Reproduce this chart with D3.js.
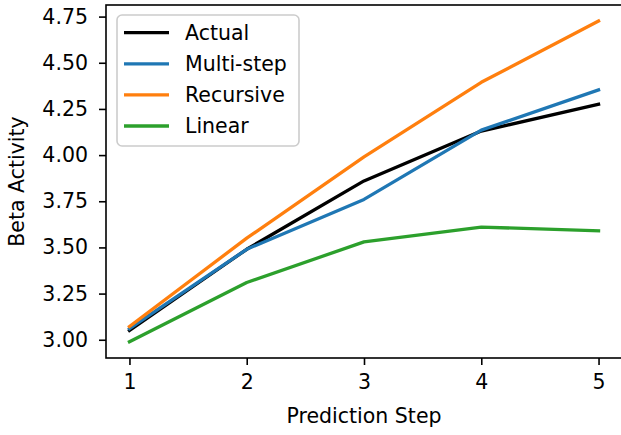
<!DOCTYPE html>
<html lang="en">
<head>
<meta charset="UTF-8">
<title>Beta Activity</title>
<style>
  body { margin: 0; background: #fff; }
  text { font-family: "DejaVu Sans", sans-serif; fill: #000; }
</style>
</head>
<body>
<svg width="621" height="435"></svg>
<script src="https://cdn.jsdelivr.net/npm/d3@7"></script>
<script>
// data
var steps = [1, 2, 3, 4, 5];
var actual    = [3.05, 3.49, 3.86, 4.13, 4.275];
var multiStep = [3.06, 3.49, 3.76, 4.135, 4.353];
var recursive = [3.072, 3.55, 3.99, 4.394, 4.726];
var linear    = [2.989, 3.31, 3.53, 3.61, 3.59];
var yTicks = [3.00, 3.25, 3.50, 3.75, 4.00, 4.25, 4.50, 4.75];

var series = [
  {name: "Actual", values: actual, color: "#000000"},
  {name: "Multi-step", values: multiStep, color: "#1f77b4"},
  {name: "Recursive", values: recursive, color: "#ff7f0e"},
  {name: "Linear", values: linear, color: "#2ca02c"}
];

var svg = d3.select("svg");
var mLeft = 106, mRight = 622, mTop = 5, mBottom = 358;

// matplotlib-ish 5% margins
var x = d3.scaleLinear().domain([0.8, 5.2]).range([mLeft, mRight]);
var y = d3.scaleLinear().domain([2.9012, 4.8128]).range([mBottom, mTop]);

var g = svg.append("g");

// lines
var line = d3.line()
  .x(function(d, i){ return x(steps[i]); })
  .y(function(d){ return y(d); });

g.selectAll("path.series")
  .data(series)
  .enter()
  .append("path")
  .attr("class", "series")
  .attr("d", function(s){ return line(s.values); })
  .attr("fill", "none")
  .attr("stroke", function(s){ return s.color; })
  .attr("stroke-width", 3.3)
  .attr("stroke-linecap", "square")
  .attr("stroke-linejoin", "round");

// axes
var xAxis = d3.axisBottom(x).tickValues(steps).tickFormat(d3.format("d"))
  .tickSize(7).tickPadding(9);
var yAxis = d3.axisLeft(y).tickValues(yTicks).tickFormat(d3.format(".2f"))
  .tickSize(7).tickPadding(11);

var gx = g.append("g").attr("transform", "translate(0," + mBottom + ")").call(xAxis);
var gy = g.append("g").attr("transform", "translate(" + mLeft + ",0)").call(yAxis);

[gx, gy].forEach(function(a){
  a.select(".domain").remove();
  a.selectAll(".tick line").attr("stroke", "#000").attr("stroke-width", 1.6);
  a.selectAll(".tick text").attr("font-size", 20.5).attr("font-family", "DejaVu Sans").attr("fill", "#000");
});

// spines
g.append("rect")
  .attr("x", mLeft).attr("y", mTop)
  .attr("width", mRight - mLeft).attr("height", mBottom - mTop)
  .attr("fill", "none").attr("stroke", "#000").attr("stroke-width", 1.6);

// axis labels
svg.append("text")
  .attr("x", (mLeft + mRight) / 2).attr("y", 423)
  .attr("text-anchor", "middle").attr("font-size", 20.5)
  .text("Prediction Step");

svg.append("text")
  .attr("transform", "translate(24," + ((mTop + mBottom) / 2) + ") rotate(-90)")
  .attr("text-anchor", "middle").attr("font-size", 20.5)
  .text("Beta Activity");

// legend
var lg = svg.append("g").attr("transform", "translate(117,15)");
lg.append("rect")
  .attr("width", 182).attr("height", 131)
  .attr("rx", 5).attr("ry", 5)
  .attr("fill", "#fff").attr("fill-opacity", 0.8)
  .attr("stroke", "#cccccc").attr("stroke-width", 1.6);

var item = lg.selectAll("g.item")
  .data(series)
  .enter()
  .append("g")
  .attr("class", "item")
  .attr("transform", function(d, i){ return "translate(0," + (17.7 + i * 31.1) + ")"; });

item.append("line")
  .attr("x1", 7).attr("x2", 52)
  .attr("stroke", function(d){ return d.color; })
  .attr("stroke-width", 3.3);

item.append("text")
  .attr("x", 68).attr("y", 7)
  .attr("font-size", 20.5)
  .text(function(d){ return d.name; });
</script>
</body>
</html>
